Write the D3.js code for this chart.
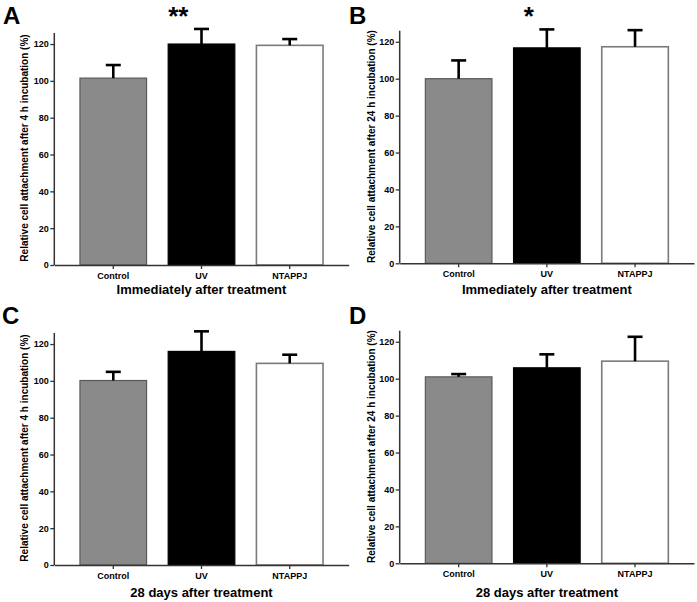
<!DOCTYPE html>
<html>
<head>
<meta charset="utf-8">
<script src="https://cdn.jsdelivr.net/npm/d3@7"></script>
<style>
  html, body { margin: 0; padding: 0; background: #fff; }
  svg { display: block; font-family: "Liberation Sans", Arial, sans-serif; }
</style>
</head>
<body>
<svg id="chart" width="697" height="602"></svg>
<script>
// ---- data ----
const categories = ["Control", "UV", "NTAPPJ"];
const yTicks = [0, 20, 40, 60, 80, 100, 120];

const meanA = [101.5, 120.0, 119.3];
const errA  = [7.1, 8.2, 3.4];
const sigA  = ["", "**", ""];

const meanB = [100.0, 116.7, 117.3];
const errB  = [9.9, 10.0, 9.0];
const sigB  = ["", "*", ""];

const meanC = [100.2, 116.0, 109.5];
const errC  = [4.7, 10.9, 4.7];
const sigC  = ["", "", ""];

const meanD = [101.0, 105.9, 109.5];
const errD  = [1.5, 7.3, 13.2];
const sigD  = ["", "", ""];

const panelLetters = ["A", "B", "C", "D"];
const xTitles = ["Immediately after treatment", "Immediately after treatment",
                 "28 days after treatment", "28 days after treatment"];
const yTitles = ["Relative cell attachment after 4 h incubation (%)",
                 "Relative cell attachment after 24 h incubation (%)",
                 "Relative cell attachment after 4 h incubation (%)",
                 "Relative cell attachment after 24 h incubation (%)"];

const fills   = ["#8a8a8a", "#000000", "#ffffff"];
const strokes = ["#5a5a5a", "#000000", "#7a7a7a"];

// ---- layout (per panel) ----
const panels = [
  { mean: meanA, err: errA, sig: sigA, x0: 54.3, x1: 348.7, yb: 265,   yt: 33,
    letter: [3, 24], ylab: [28, 148], xtitleY: 294.3, starY: 24.5 },
  { mean: meanB, err: errB, sig: sigB, x0: 399.7, x1: 694,  yb: 263.3, yt: 30.7,
    letter: [349, 24], ylab: [374.5, 146.5], xtitleY: 294.3, starY: 24.5 },
  { mean: meanC, err: errC, sig: sigC, x0: 54.3, x1: 348.7, yb: 565,   yt: 333,
    letter: [2, 324], ylab: [28, 448], xtitleY: 597, starY: 324.5 },
  { mean: meanD, err: errD, sig: sigD, x0: 399.7, x1: 694,  yb: 563.3, yt: 330.7,
    letter: [349, 324], ylab: [374.5, 446.5], xtitleY: 597, starY: 324.5 }
];

const svg = d3.select("#chart");

panels.forEach((p, i) => {
  const g = svg.append("g");

  const x = d3.scaleBand().domain(categories).range([p.x0, p.x1])
    .paddingInner(0.245).paddingOuter(0.291);
  const y = d3.scaleLinear().domain([0, 126]).range([p.yb, p.yt]);

  const data = categories.map((c, k) => ({ c, m: p.mean[k], e: p.err[k], s: p.sig[k], k }));

  // bars
  g.selectAll("rect.bar").data(data).enter().append("rect")
    .attr("class", "bar")
    .attr("x", d => x(d.c))
    .attr("y", d => y(d.m))
    .attr("width", x.bandwidth())
    .attr("height", d => y(0) - y(d.m))
    .attr("fill", d => fills[d.k])
    .attr("stroke", d => strokes[d.k])
    .attr("stroke-width", d => d.k === 2 ? 1.6 : 1.2);

  // error bars (upper only)
  g.selectAll("line.err").data(data).enter().append("line")
    .attr("x1", d => x(d.c) + x.bandwidth() / 2)
    .attr("x2", d => x(d.c) + x.bandwidth() / 2)
    .attr("y1", d => y(d.m))
    .attr("y2", d => y(d.m + d.e))
    .attr("stroke", "#000").attr("stroke-width", 2.6);
  g.selectAll("line.cap").data(data).enter().append("line")
    .attr("x1", d => x(d.c) + x.bandwidth() / 2 - 7.5)
    .attr("x2", d => x(d.c) + x.bandwidth() / 2 + 7.5)
    .attr("y1", d => y(d.m + d.e))
    .attr("y2", d => y(d.m + d.e))
    .attr("stroke", "#000").attr("stroke-width", 2.6);

  // significance stars
  g.selectAll("text.sig").data(data.filter(d => d.s)).enter().append("text")
    .attr("x", d => x(d.c) + x.bandwidth() / 2 - 13)
    .attr("y", p.starY)
    .attr("text-anchor", "end")
    .attr("font-size", 26).attr("font-weight", "bold")
    .text(d => d.s);

  // axes
  const yAxis = d3.axisLeft(y).tickValues(yTicks).tickSize(4).tickPadding(1.5).tickSizeOuter(0);
  const ya = g.append("g").attr("transform", `translate(${p.x0},0)`).call(yAxis);
  const xAxis = d3.axisBottom(x).tickSize(4).tickPadding(3.5).tickSizeOuter(0);
  const xa = g.append("g").attr("transform", `translate(0,${p.yb})`).call(xAxis);

  [ya, xa].forEach(a => {
    a.select(".domain").attr("stroke", "#333").attr("stroke-width", 1.5);
    a.selectAll(".tick line").attr("stroke", "#333").attr("stroke-width", 1.3);
    a.selectAll(".tick text").attr("fill", "#000")
      .attr("font-size", 9).attr("font-weight", "bold")
      .attr("font-family", "Liberation Sans, Arial, sans-serif");
  });
  // y domain line extends slightly past the last tick
  ya.select(".domain").attr("d", `M0,${p.yb}V${p.yt}`);

  // x title
  g.append("text")
    .attr("x", (p.x0 + p.x1) / 2)
    .attr("y", p.xtitleY)
    .attr("text-anchor", "middle")
    .attr("font-size", 13).attr("font-weight", "bold")
    .text(xTitles[i]);

  // y title
  g.append("text")
    .attr("transform", `translate(${p.ylab[0]},${p.ylab[1]}) rotate(-90)`)
    .attr("text-anchor", "middle")
    .attr("font-size", 10).attr("font-weight", "bold")
    .text(yTitles[i]);

  // panel letter
  g.append("text")
    .attr("x", p.letter[0]).attr("y", p.letter[1])
    .attr("font-size", 24).attr("font-weight", "bold")
    .text(panelLetters[i]);
});
</script>
</body>
</html>
